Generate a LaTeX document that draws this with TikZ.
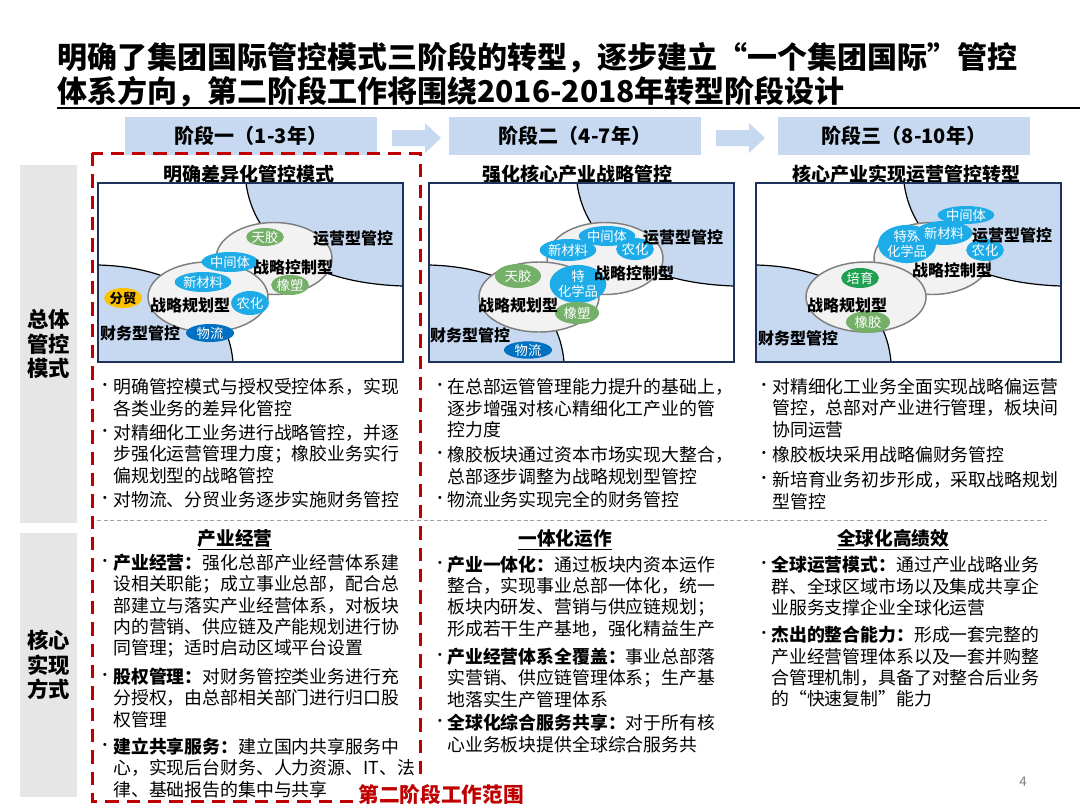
\documentclass[tikz,border=0pt]{standalone}
\usepackage{fontspec}
\setmainfont{Noto Sans CJK SC}
\usetikzlibrary{shapes.geometric}
\definecolor{lb}{RGB}{198,217,241}
\definecolor{navy}{RGB}{31,50,90}
\definecolor{egray}{RGB}{242,242,242}
\definecolor{eline}{RGB}{127,127,127}
\definecolor{cyanb}{RGB}{30,172,232}
\definecolor{greenb}{RGB}{116,176,104}
\definecolor{greend}{RGB}{30,160,80}
\definecolor{yel}{RGB}{255,192,0}
\definecolor{dblue}{RGB}{0,112,192}
\definecolor{dred}{RGB}{192,0,0}
\definecolor{lgray}{RGB}{230,230,230}
\definecolor{sepgray}{RGB}{160,160,160}
\tikzset{
  titletxt/.style={font=\fontsize{22.5}{26}\selectfont\bfseries, inner sep=0, anchor=west},
  stagebox/.style={fill=lb, minimum width=189pt, minimum height=28.5pt, inner sep=0, font=\fontsize{15}{17}\selectfont\bfseries},
  sidebox/.style={fill=lgray, minimum width=42.75pt, inner sep=0, align=center, font=\fontsize{16}{18.5}\selectfont\bfseries},
  subtitle/.style={font=\fontsize{14.25}{16}\selectfont\bfseries, inner sep=0},
  ell/.style={fill=egray, draw=eline, line width=1.1pt},
  plab/.style={font=\fontsize{12}{13}\selectfont\bfseries, inner sep=0},
  bub/.style={ellipse, inner sep=0, text=white, align=center, font=\fontsize{10}{11}\selectfont},
  txt/.style={font=\fontsize{13.4}{16}\selectfont, inner sep=0, anchor=west},
  bul/.style={font=\fontsize{11}{12}\selectfont, inner sep=0},
  sechead/.style={font=\fontsize{14}{16}\selectfont\bfseries, inner sep=0},
}
\newcommand\panelbase[1]{%
  \begin{scope}[shift={(#1,183)}]
    \fill[white] (0,0) rectangle (305,179);
    \fill[lb] (148,0) .. controls (156,60) and (210,100) .. (305,103) -- (305,0) -- cycle;
    \draw[line width=0.9pt] (148,0) .. controls (156,60) and (210,100) .. (305,103);
    \fill[lb] (0,82) .. controls (80,84) and (130,120) .. (135,179) -- (0,179) -- cycle;
    \draw[line width=0.9pt] (0,82) .. controls (80,84) and (130,120) .. (135,179);
    \draw[ell] (176,75.5) ellipse [x radius=58, y radius=36];
    \draw[ell] (110,114) ellipse [x radius=60, y radius=35];
    \draw[navy, line width=1.6pt] (0,0) rectangle (305,179);
  \end{scope}}
\newcommand\bub[7]{\node[bub, fill=#6, minimum width={1.5pt*#4}, minimum height={1.5pt*#5}] (#1) at (#2,#3) {#7};}
\newcommand\blk[5]{%
  \node[bul] (#1) at (#2,#4) {•};
  \foreach \t [count=\i from 0] in {#5}{\node[txt] (#1-\i) at (#3,{#4+\i*21.3}) {\t};}%
}
\begin{document}
\begin{tikzpicture}[x=0.75pt, y=-0.75pt]
\useasboundingbox (0,0) rectangle (1080,810);
\fill[white] (0,0) rectangle (1080,810);

% title
\node[titletxt] (t1) at (57,58) {明确了集团国际管控模式三阶段的转型，逐步建立“一个集团国际”管控};
\node[titletxt] (t2) at (57,92) {体系方向，第二阶段工作将围绕2016-2018年转型阶段设计};
\coordinate (ruleL) at (57,108);
\coordinate (ruleR) at (1080,108);
\draw[line width=1.4pt] (ruleL) -- (ruleR);

% stage headers
\node[stagebox] (s1) at (251,136) {阶段一（1-3年）};
\node[stagebox] (s2) at (575,136) {阶段二（4-7年）};
\node[stagebox] (s3) at (904,136) {阶段三（8-10年）};
\fill[lb] (392,130) -- (425,130) -- (425,123) -- (441,138) -- (425,153) -- (425,146) -- (392,146) -- cycle;
\fill[lb] (716,130) -- (749,130) -- (749,123) -- (765,138) -- (749,153) -- (749,146) -- (716,146) -- cycle;

% side labels
\node[sidebox, minimum height=268.5pt] (L1) at (48.5,344) {总体\\管控\\模式};
\node[sidebox, minimum height=198pt] (L2) at (48.5,665) {核心\\实现\\方式};

% subtitles
\node[subtitle] (h1) at (249,174) {明确差异化管控模式};
\node[subtitle] (h2) at (577,174) {强化核心产业战略管控};
\node[subtitle] (h3) at (906,174) {核心产业实现运营管控转型};

% panels
\panelbase{98}
\panelbase{429}
\panelbase{756}

% panel 1
\bub{p1a}{265}{237}{18}{9}{greenb}{天胶}
\bub{p1b}{230}{262}{22}{10}{cyanb}{中间体}
\bub{p1c}{203}{282}{20}{10}{cyanb}{新材料}
\bub{p1d}{290}{285}{18}{10}{greenb}{橡塑}
\bub{p1e}{250}{303}{17}{12}{cyanb}{农化}
\node[bub, fill=yel, text=black, font=\fontsize{10}{11}\selectfont\bfseries, minimum width=22.5pt, minimum height=15pt] (p1f) at (123,298) {分贸};
\bub{p1g}{210}{333}{24}{9}{dblue}{物流}
\node[plab] (p1l1) at (353,238) {运营型管控};
\node[plab] (p1l2) at (293,267) {战略控制型};
\node[plab] (p1l3) at (190,305) {战略规划型};
\node[plab] (p1l4) at (140,333) {财务型管控};

% panel 2
\bub{p2a}{607}{236}{22}{10}{cyanb}{中间体}
\bub{p2b}{568}{250}{18}{11}{cyanb}{新材料}
\bub{p2c}{635}{249}{15}{11}{cyanb}{农化}
\bub{p2d}{518}{276}{23}{12}{greenb}{天胶}
\bub{p2e}{578}{284}{28}{13}{cyanb}{特\\化学品}
\bub{p2f}{577}{313}{22}{11}{greenb}{橡塑}
\bub{p2g}{528}{350}{24}{8}{dblue}{物流}
\node[plab] (p2l1) at (683,237) {运营型管控};
\node[plab] (p2l2) at (634,273) {战略控制型};
\node[plab] (p2l3) at (518,305) {战略规划型};
\node[plab] (p2l4) at (470,335) {财务型管控};

% panel 3
\bub{p3a}{966}{215}{22}{9}{cyanb}{中间体}
\bub{p3b}{907}{244}{29}{14}{cyanb}{特殊\\化学品}
\bub{p3c}{944}{233}{20}{12}{cyanb}{新材料}
\bub{p3d}{985}{250}{16}{11}{cyanb}{农化}
\bub{p3e}{860}{278}{15}{10}{greend}{培育}
\bub{p3f}{868}{322}{22}{11}{greenb}{橡胶}
\node[plab] (p3l1) at (1012,235) {运营型管控};
\node[plab] (p3l2) at (952,270) {战略控制型};
\node[plab] (p3l3) at (847,305) {战略规划型};
\node[plab] (p3l4) at (798,338) {财务型管控};

% top bullets
\blk{a1}{105}{113}{387}{明确管控模式与授权受控体系，实现,各类业务的差异化管控}
\blk{a2}{105}{113}{433}{对精细化工业务进行战略管控，并逐,步强化运营管理力度；橡胶业务实行,偏规划型的战略管控}
\blk{a3}{105}{113}{500}{对物流、分贸业务逐步实施财务管控}
\blk{b1}{440}{447}{387}{在总部运管管理能力提升的基础上，,逐步增强对核心精细化工产业的管,控力度}
\blk{b2}{440}{447}{455}{橡胶板块通过资本市场实现大整合，,总部逐步调整为战略规划型管控}
\blk{b3}{440}{447}{500}{物流业务实现完全的财务管控}
\blk{c1}{764}{772}{387}{对精细化工业务全面实现战略偏运营,管控，总部对产业进行管理，板块间,协同运营}
\blk{c2}{764}{772}{455}{橡胶板块采用战略偏财务管控}
\blk{c3}{764}{772}{480}{新培育业务初步形成，采取战略规划,型管控}

% separator
\coordinate (sepL) at (97,520);
\coordinate (sepR) at (1047,520);
\draw[sepgray, line width=0.7pt, dash pattern=on 3pt off 2pt] (sepL) -- (sepR);

% bottom section
\node[sechead] (k1) at (235,540) {\underline{产业经营}};
\node[sechead] (k2) at (565,540) {\underline{一体化运作}};
\node[sechead] (k3) at (893,540) {\underline{全球化高绩效}};
\blk{d1}{105}{113}{563}{{\bfseries 产业经营：}强化总部产业经营体系建,设相关职能；成立事业总部，配合总,部建立与落实产业经营体系，对板块,内的营销、供应链及产能规划进行协,同管理；适时启动区域平台设置}
\blk{d2}{105}{113}{677}{{\bfseries 股权管理：}对财务管控类业务进行充,分授权，由总部相关部门进行归口股,权管理}
\blk{d3}{105}{113}{747}{{\bfseries 建立共享服务：}建立国内共享服务中,心，实现后台财务、人力资源、IT、法,律、基础报告的集中与共享}
\blk{e1}{440}{447}{565}{{\bfseries 产业一体化：}通过板块内资本运作,整合，实现事业总部一体化，统一,板块内研发、营销与供应链规划；,形成若干生产基地，强化精益生产}
\blk{e2}{440}{447}{657}{{\bfseries 产业经营体系全覆盖：}事业总部落,实营销、供应链管理体系；生产基,地落实生产管理体系}
\blk{e3}{440}{447}{723}{{\bfseries 全球化综合服务共享：}对于所有核,心业务板块提供全球综合服务共}
\blk{f1}{764}{771}{565}{{\bfseries 全球运营模式：}通过产业战略业务,群、全球区域市场以及集成共享企,业服务支撑企业全球化运营}
\blk{f2}{764}{771}{635}{{\bfseries 杰出的整合能力：}形成一套完整的,产业经营管理体系以及一套并购整,合管理机制，具备了对整合后业务,的“快速复制”能力}

% red dashed scope
\draw[dred, line width=2.25pt, dash pattern=on 10pt off 6pt] (92,153) rectangle (420,801);
\node[fill=white, inner sep=2pt, text=dred, font=\fontsize{15.5}{17}\selectfont\bfseries] (scope) at (441,795) {第二阶段工作范围};

% page number
\node[text=gray, font=\fontsize{10}{11}\selectfont, inner sep=0] (pg) at (1023,782) {4};
\end{tikzpicture}
\end{document}
